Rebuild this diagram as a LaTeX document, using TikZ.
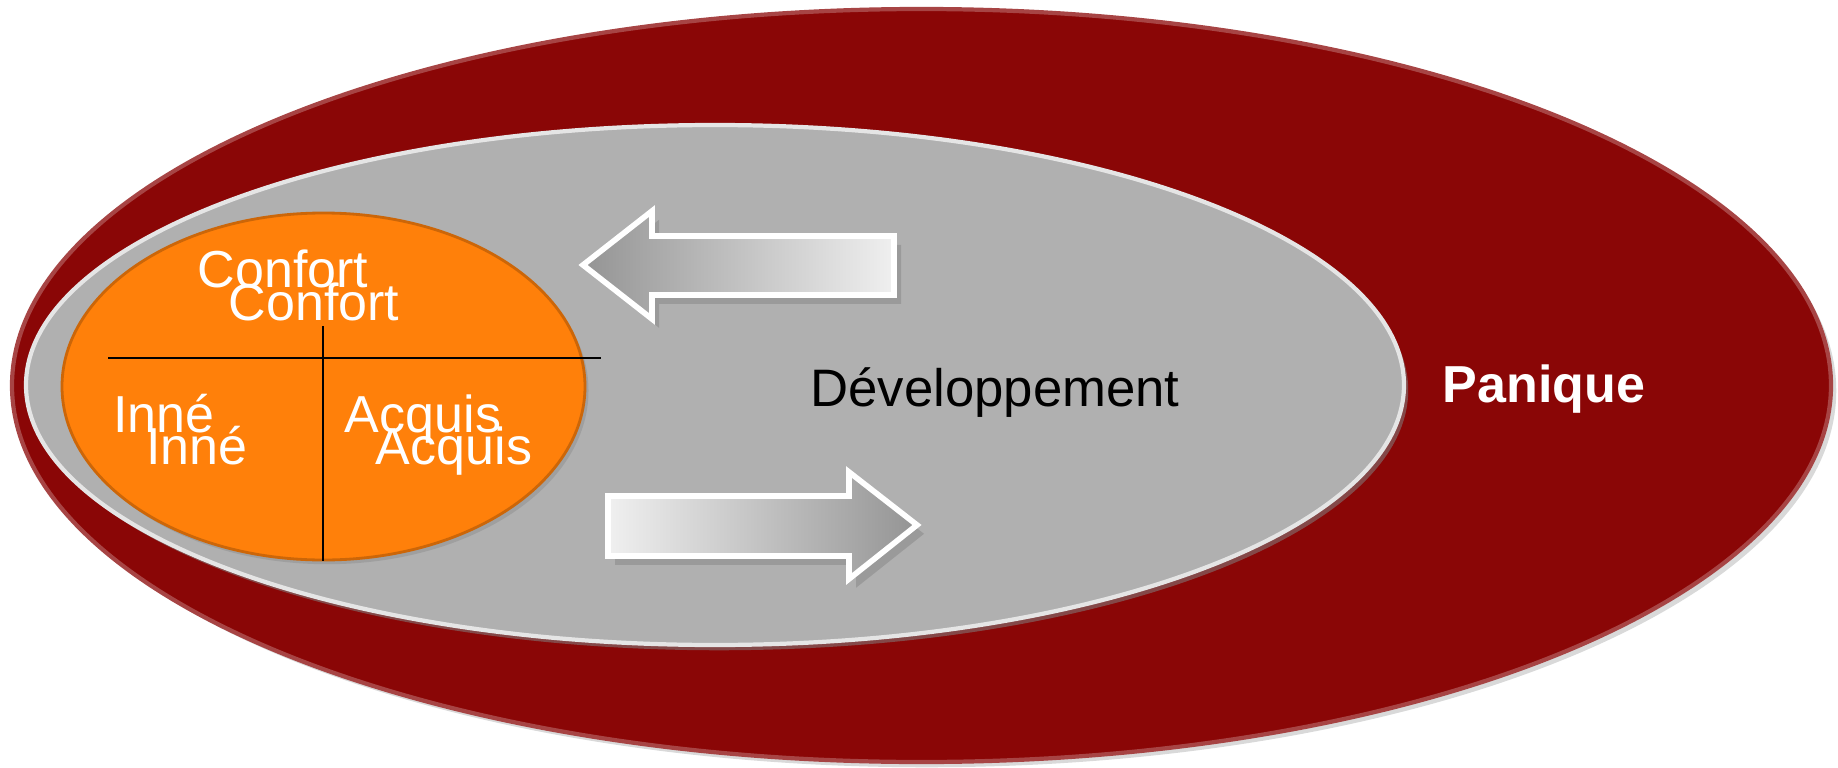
\documentclass[tikz,border=0pt]{standalone}
\usepackage{fontspec}
\setmainfont{Liberation Sans}
\usepackage{xcolor}
\usetikzlibrary{shapes.geometric, shadows}
\definecolor{panicred}{HTML}{8A0606}
\definecolor{devgray}{HTML}{B0B0B0}
\definecolor{comfort}{HTML}{FF800A}

\begin{document}
\begin{tikzpicture}[
  zone/.style={ellipse, inner sep=0pt, line width=1.2pt},
  word/.style={anchor=base, inner sep=0pt, text=white,
               font=\fontsize{14.8}{17}\selectfont},
  bigarrow/.style={draw=white, line width=1.6pt, line join=miter,
                   drop shadow={shadow xshift=2pt, shadow yshift=-2.5pt, opacity=0.45}}
]
  \useasboundingbox (0,0) rectangle (18.38,7.67);

  % nested zones
  \node[zone, fill=panicred, draw=panicred!75!white,
        drop shadow={shadow xshift=1.5pt, shadow yshift=-1.5pt, opacity=0.3},
        minimum width=18.19cm, minimum height=7.53cm] (panic) at (9.215,3.815) {};
  \node[zone, fill=devgray, draw=white!80!gray,
        drop shadow={shadow xshift=1.2pt, shadow yshift=-1.5pt, opacity=0.55},
        minimum width=13.78cm, minimum height=5.20cm] (dev) at (7.15,3.82) {};
  \node[zone, fill=comfort, draw=comfort!80!black, line width=0.8pt,
        drop shadow={shadow xshift=1pt, shadow yshift=-1.2pt, opacity=0.35},
        minimum width=5.23cm, minimum height=3.47cm] (comf) at (3.235,3.805) {};

  % quadrant lines
  \draw[black, line width=0.6pt] (1.08,4.09) -- (6.01,4.09);
  \draw[black, line width=0.6pt] (3.23,4.41) -- (3.23,2.06);

  % labels inside the comfort zone (each one set twice)
  \node[word] (conf1) at (2.83,4.80) {Confort};
  \node[word] (conf2) at (3.14,4.47) {Confort};
  \node[word] (inne1) at (1.64,3.35) {Inné};
  \node[word] (inne2) at (1.97,3.03) {Inné};
  \node[word] (acq1)  at (4.23,3.35) {Acquis};
  \node[word] (acq2)  at (4.54,3.03) {Acquis};

  \node[word, text=black, font=\fontsize{15}{18}\selectfont] (devlabel) at (9.95,3.61) {Développement};
  \node[word, font=\fontsize{14.8}{17}\selectfont\bfseries] (paniclabel) at (15.44,3.65) {Panique};

  % arrows back and forth
  \draw[bigarrow, left color=black!42, right color=black!6]
    (5.83,5.02) -- (6.52,5.56) -- (6.52,5.31) -- (8.94,5.31)
    -- (8.94,4.72) -- (6.52,4.72) -- (6.52,4.48) -- cycle;
  \draw[bigarrow, left color=black!6, right color=black!42]
    (6.08,2.71) -- (8.49,2.71) -- (8.49,2.95) -- (9.17,2.42)
    -- (8.49,1.88) -- (8.49,2.11) -- (6.08,2.11) -- cycle;
\end{tikzpicture}
\end{document}
